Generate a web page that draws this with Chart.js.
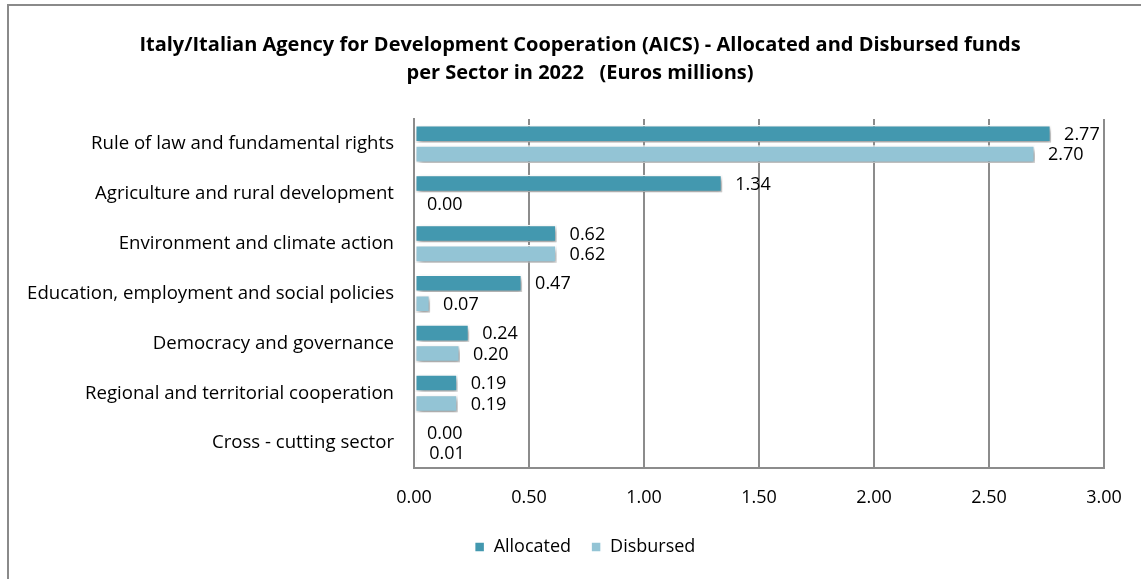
<!DOCTYPE html>
<html>
<head>
<meta charset="utf-8">
<script src="https://cdn.jsdelivr.net/npm/chart.js@4.4.1/dist/chart.umd.min.js"></script>
<style>
  html, body { margin: 0; padding: 0; background: #fff; }
  #wrap { position: absolute; left: 0; top: 0; width: 1141px; height: 579px; }
</style>
</head>
<body>
<div id="wrap"><canvas id="c" width="1141" height="579"></canvas></div>
<script>
const categories = [
  "Rule of law and fundamental rights",
  "Agriculture and rural development",
  "Environment and climate action",
  "Education, employment and social policies",
  "Democracy and governance",
  "Regional and territorial cooperation",
  "Cross - cutting sector"
];
const allocated = [2.77, 1.34, 0.62, 0.47, 0.24, 0.19, 0.00];
const disbursed = [2.70, 0.00, 0.62, 0.07, 0.20, 0.19, 0.01];
const seriesNames = ["Allocated", "Disbursed"];
const titleLines = [
  "Italy/Italian Agency for Development Cooperation (AICS) - Allocated and Disbursed funds",
  "per Sector in 2022   (Euros millions)"
];
const xTicks = [0, 0.5, 1, 1.5, 2, 2.5, 3];

const FONT = "'Open Sans', sans-serif";

const framePlugin = {
  id: 'frame',
  beforeDraw(chart) {
    const ctx = chart.ctx;
    ctx.save();
    ctx.fillStyle = '#fff';
    ctx.fillRect(0, 0, chart.width, chart.height);
    ctx.strokeStyle = '#8a8a8a';
    ctx.lineWidth = 2;
    ctx.strokeRect(8, 5, 2000, 2000);
    ctx.restore();
  }
};

// shift title and legend horizontally to match the original centring
const shiftPlugin = {
  id: 'shiftBoxes',
  afterLayout(chart) {
    if (chart.titleBlock) { chart.titleBlock.left += 21; chart.titleBlock.right += 21; }
    if (chart.legend) { chart.legend.left += 26; chart.legend.right += 26; }
  }
};

const shadowPlugin = {
  id: 'barShadow',
  beforeDatasetsDraw(chart) {
    const ctx = chart.ctx;
    ctx.save();
    ctx.shadowColor = 'rgba(0,0,0,0.4)';
    ctx.shadowBlur = 5;
    ctx.shadowOffsetX = 2;
    ctx.shadowOffsetY = 3;
  },
  afterDatasetsDraw(chart) {
    chart.ctx.restore();
  }
};

const labelPlugin = {
  id: 'valueLabels',
  afterDatasetsDraw(chart) {
    const ctx = chart.ctx;
    ctx.save();
    ctx.font = "18px " + FONT;
    ctx.fillStyle = '#000';
    ctx.textAlign = 'left';
    ctx.textBaseline = 'middle';
    chart.data.datasets.forEach((ds, di) => {
      const meta = chart.getDatasetMeta(di);
      meta.data.forEach((bar, i) => {
        const v = ds.data[i];
        ctx.fillText(v.toFixed(2), bar.x + 13, bar.y + 1);
      });
    });
    ctx.restore();
  }
};

new Chart(document.getElementById('c'), {
  type: 'bar',
  data: {
    labels: categories,
    datasets: [
      {
        label: seriesNames[0],
        data: allocated,
        backgroundColor: '#4398AF',
        borderColor: '#ffffff',
        borderWidth: 1.5,
        borderSkipped: false,
        categoryPercentage: 0.82,
        barPercentage: 0.86
      },
      {
        label: seriesNames[1],
        data: disbursed,
        backgroundColor: '#93C4D5',
        borderColor: '#ffffff',
        borderWidth: 1.5,
        borderSkipped: false,
        categoryPercentage: 0.82,
        barPercentage: 0.86
      }
    ]
  },
  options: {
    indexAxis: 'y',
    responsive: false,
    animation: false,
    devicePixelRatio: 1,
    layout: { padding: { top: 0, left: 14, right: 37, bottom: 13 } },
    scales: {
      x: {
        min: 0, max: 3,
        afterBuildTicks(scale) { scale.ticks = xTicks.map(v => ({ value: v })); },
        afterFit(scale) { scale.height = 50; },
        ticks: {
          callback: v => Number(v).toFixed(2),
          color: '#000',
          font: { family: FONT, size: 18 },
          padding: 19
        },
        grid: { color: '#8c8c8c', lineWidth: 2, drawTicks: false },
        border: { color: '#8c8c8c', width: 2 }
      },
      y: {
        afterFit(scale) { scale.width = 400; },
        ticks: {
          color: '#000',
          font: { family: FONT, size: 18.6 },
          padding: 20,
          autoSkip: false
        },
        grid: { display: false, drawTicks: false },
        border: { color: '#8c8c8c', width: 2 }
      }
    },
    plugins: {
      title: {
        display: true,
        text: titleLines,
        color: '#000',
        font: { family: FONT, size: 20, weight: 'bold', lineHeight: 1.4 },
        padding: { top: 31, bottom: 32 }
      },
      legend: {
        position: 'bottom',
        labels: {
          boxWidth: 10,
          boxHeight: 10,
          color: '#000',
          font: { family: FONT, size: 18 },
          padding: 20,
          useBorderRadius: false
        }
      },
      tooltip: { enabled: false }
    }
  },
  plugins: [framePlugin, shiftPlugin, shadowPlugin, labelPlugin]
});
</script>
</body>
</html>
